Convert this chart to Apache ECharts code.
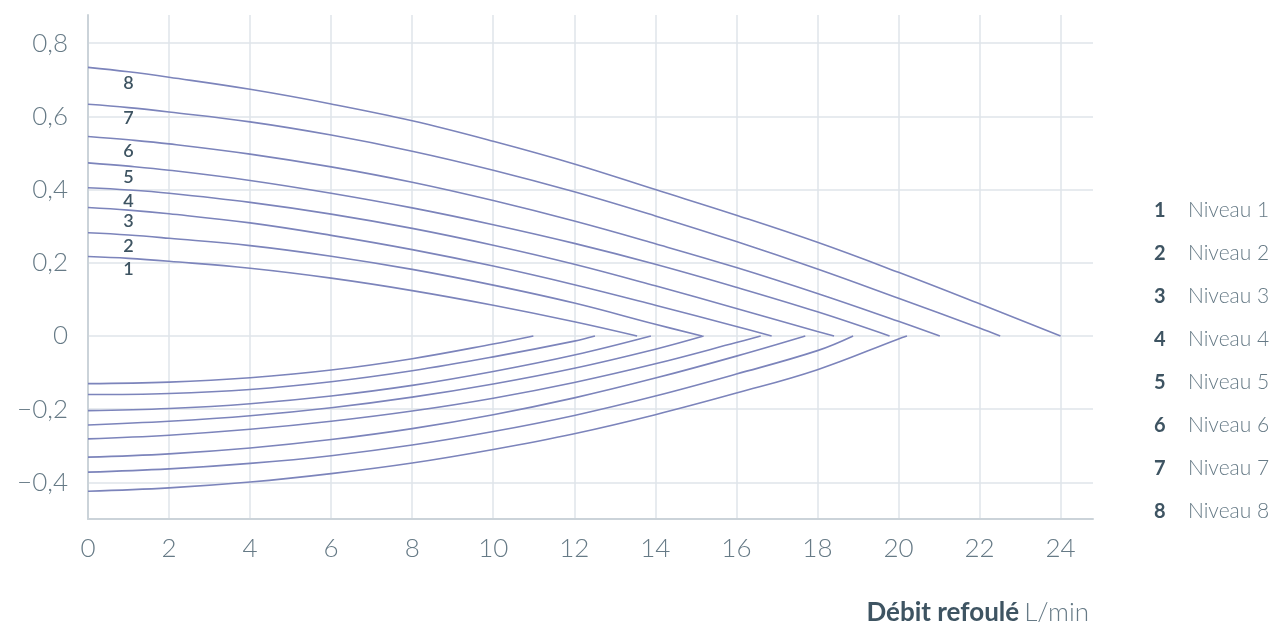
<!DOCTYPE html>
<html>
<head>
<meta charset="utf-8">
<script src="https://cdn.jsdelivr.net/npm/echarts@6/dist/echarts.min.js"></script>
<style>
  html, body { margin: 0; padding: 0; background: #fff; }
  #chart { width: 1277px; height: 628px; }
</style>
</head>
<body>
<div id="chart"></div>
<script>
// niveaux
const levels = ['Niveau 1', 'Niveau 2', 'Niveau 3', 'Niveau 4', 'Niveau 5', 'Niveau 6', 'Niveau 7', 'Niveau 8'];

// debit (L/min) where the readings were taken
const upperSteps = [0, 1, 2, 4, 6, 8, 10, 12, 14, 16, 18, 20, 22];
const lowerSteps = [0, 2, 4, 6, 8, 10, 12, 14, 16, 18, 20];

// upper curves, ending at zero
const upperEnd = [13.55, 15.15, 16.87, 18.41, 19.78, 21.02, 22.51, 24];
const upper1 = [0.217, 0.212, 0.204, 0.185, 0.158, 0.124, 0.084, 0.039];
const upper2 = [0.282, 0.276, 0.267, 0.247, 0.218, 0.182, 0.139, 0.090, 0.032];
const upper3 = [0.351, 0.344, 0.334, 0.309, 0.275, 0.236, 0.191, 0.140, 0.084, 0.026];
const upper4 = [0.405, 0.399, 0.390, 0.365, 0.333, 0.294, 0.248, 0.196, 0.137, 0.075, 0.012];
const upper5 = [0.473, 0.464, 0.453, 0.425, 0.390, 0.350, 0.304, 0.253, 0.196, 0.133, 0.066];
const upper6 = [0.545, 0.536, 0.525, 0.497, 0.462, 0.420, 0.370, 0.314, 0.252, 0.187, 0.116, 0.040];
const upper7 = [0.633, 0.624, 0.612, 0.585, 0.549, 0.505, 0.453, 0.394, 0.328, 0.258, 0.183, 0.103, 0.022];
const upper8 = [0.734, 0.722, 0.707, 0.674, 0.634, 0.588, 0.532, 0.470, 0.400, 0.330, 0.256, 0.174, 0.088];

// lower curves, ending at zero
const lowerEnd = [10.99, 12.51, 13.89, 15.19, 16.6, 17.7, 18.88, 20.21];
const lower1 = [-0.130, -0.126, -0.114, -0.093, -0.062, -0.022];
const lower2 = [-0.160, -0.157, -0.146, -0.125, -0.095, -0.057, -0.014];
const lower3 = [-0.204, -0.198, -0.185, -0.164, -0.135, -0.097, -0.052];
const lower4 = [-0.243, -0.233, -0.218, -0.196, -0.167, -0.131, -0.088, -0.036];
const lower5 = [-0.281, -0.271, -0.255, -0.233, -0.205, -0.170, -0.127, -0.076, -0.018];
const lower6 = [-0.331, -0.322, -0.306, -0.283, -0.253, -0.215, -0.169, -0.115, -0.055];
const lower7 = [-0.372, -0.363, -0.348, -0.327, -0.298, -0.261, -0.217, -0.164, -0.104, -0.040];
const lower8 = [-0.424, -0.415, -0.399, -0.376, -0.347, -0.310, -0.267, -0.215, -0.156, -0.092, -0.008];

const xTicks = [0, 2, 4, 6, 8, 10, 12, 14, 16, 18, 20, 22, 24];
const yTicks = [-0.4, -0.2, 0, 0.2, 0.4, 0.6, 0.8];

const upperAll = [upper1, upper2, upper3, upper4, upper5, upper6, upper7, upper8];
const lowerAll = [lower1, lower2, lower3, lower4, lower5, lower6, lower7, lower8];

const lineColor = '#7c84bb';
const darkText = '#3e5462';
const lightText = '#667a86';
const font = 'Lato';

function buildUpper(i) {
  let vals = upperAll[i];
  let data = vals.map((v, k) => {
    if (upperSteps[k] === 1) {
      // level number written under the curve
      return {
        value: [1, v],
        label: {
          show: true,
          position: 'bottom',
          distance: 2,
          formatter: String(i + 1),
          fontFamily: font,
          fontSize: 18,
          fontWeight: 600,
          color: darkText
        }
      };
    }
    return [upperSteps[k], v];
  });
  data.push([upperEnd[i], 0]);
  return data;
}

function buildLower(i) {
  let vals = lowerAll[i];
  let data = vals.map((v, k) => [lowerSteps[k], v]);
  data.push([lowerEnd[i], 0]);
  return data;
}

let series = [];
for (let i = 0; i < levels.length; i++) {
  series.push({
    name: levels[i],
    type: 'line',
    data: buildUpper(i),
    smooth: 0.4,
    symbol: 'circle',
    symbolSize: 0,
    lineStyle: { color: lineColor, width: 1.6 },
    itemStyle: { color: lineColor },
    silent: true,
    z: 3
  });
  series.push({
    name: levels[i],
    type: 'line',
    data: buildLower(i),
    smooth: 0.4,
    symbol: 'none',
    lineStyle: { color: lineColor, width: 1.6 },
    itemStyle: { color: lineColor },
    silent: true,
    z: 3
  });
}

function fmtY(v) {
  if (Math.abs(v) < 1e-9) return '0';
  return (v < 0 ? '\u2212' : '') + Math.abs(v).toFixed(1).replace('.', ',');
}

const chart = echarts.init(document.getElementById('chart'));
chart.setOption({
  animation: false,
  backgroundColor: '#fff',
  grid: { left: 88, right: 184, top: 15, bottom: 109 },
  title: {
    text: '{b|Débit refoulé} {l|L/min}',
    right: 183,
    top: 595,
    textStyle: {
      rich: {
        b: { fontFamily: font, fontSize: 26, fontWeight: 700, color: darkText },
        l: { fontFamily: font, fontSize: 26, fontWeight: 300, color: lightText }
      }
    }
  },
  legend: {
    orient: 'vertical',
    left: 1143,
    top: 195,
    itemWidth: 0,
    itemHeight: 0,
    itemGap: 22,
    data: levels,
    selectedMode: false,
    formatter: function (name) {
      return '{n|' + (levels.indexOf(name) + 1) + '}{t|' + name + '}';
    },
    textStyle: {
      rich: {
        n: { fontFamily: font, fontSize: 20, fontWeight: 700, color: darkText, width: 34, lineHeight: 23 },
        t: { fontFamily: font, fontSize: 21, fontWeight: 300, color: lightText, lineHeight: 23 }
      }
    }
  },
  xAxis: {
    type: 'value',
    min: 0,
    max: 24.8,
    axisLine: { show: true, onZero: false, lineStyle: { color: '#cbd3d9', width: 2 } },
    axisTick: { show: false, customValues: xTicks },
    axisLabel: {
      customValues: xTicks,
      margin: 17,
      fontFamily: font,
      fontSize: 26,
      fontWeight: 300,
      color: lightText
    },
    splitLine: { show: true, lineStyle: { color: '#dfe5ea', width: 1.5 } }
  },
  yAxis: {
    type: 'value',
    min: -0.5,
    max: 0.877,
    axisLine: { show: true, onZero: false, lineStyle: { color: '#cbd3d9', width: 2 } },
    axisTick: { show: false, customValues: yTicks },
    axisLabel: {
      customValues: yTicks,
      margin: 20,
      formatter: fmtY,
      fontFamily: font,
      fontSize: 26,
      fontWeight: 300,
      color: lightText
    },
    splitLine: { show: true, lineStyle: { color: '#dfe5ea', width: 1.5 } }
  },
  series: series
});
</script>
</body>
</html>
